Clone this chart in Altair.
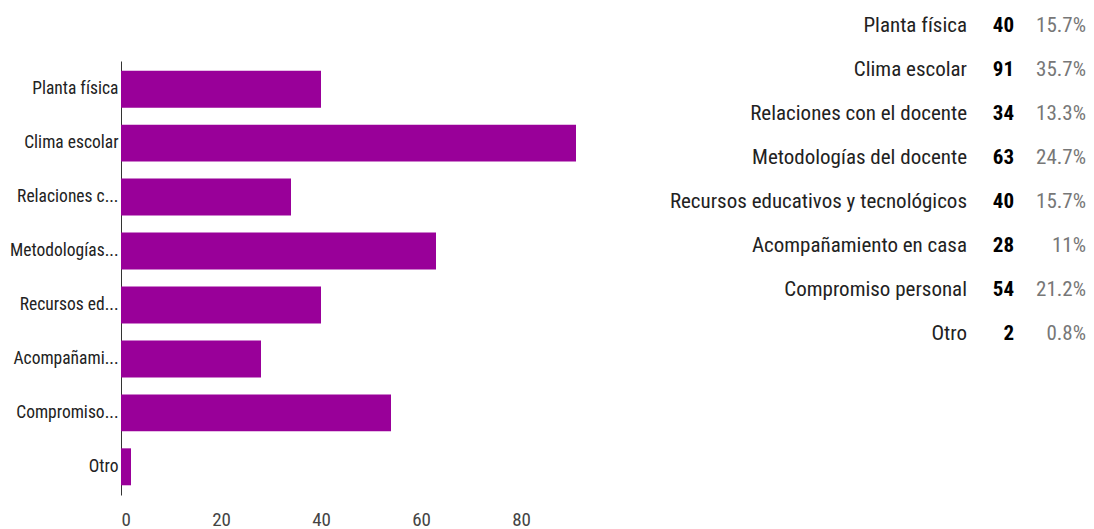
import altair as alt
import pandas as pd

categories = ["Planta física", "Clima escolar", "Relaciones con el docente",
              "Metodologías del docente", "Recursos educativos y tecnológicos",
              "Acompañamiento en casa", "Compromiso personal", "Otro"]
axis_labels = ["Planta física", "Clima escolar", "Relaciones c...", "Metodologías...",
               "Recursos ed...", "Acompañami...", "Compromiso...", "Otro"]
counts = [40, 91, 34, 63, 40, 28, 54, 2]
percents = ["15.7%", "35.7%", "13.3%", "24.7%", "15.7%", "11%", "21.2%", "0.8%"]
x_ticks = [0, 20, 40, 60, 80]

df = pd.DataFrame({"category": categories, "short": axis_labels,
                   "count": counts, "pct": percents})

FONT = "Roboto Condensed, Noto Sans Condensed, DejaVu Sans Condensed, sans-serif"

bars = alt.Chart(df).mark_bar(color="#990099").encode(
    x=alt.X("count:Q", scale=alt.Scale(domain=[0, 95], range=[0, 475], nice=False),
            axis=alt.Axis(values=x_ticks, title=None, grid=False, domain=False, ticks=False,
                          labelFont=FONT, labelFontSize=19, labelColor="#444",
                          labelPadding=15)),
    y=alt.Y("short:N", sort=axis_labels,
            scale=alt.Scale(range=[48, 482], paddingInner=0.315, paddingOuter=0.18),
            axis=alt.Axis(title=None, ticks=False, domainColor="#333", labelFont=FONT,
                          labelFontSize=17.5, labelColor="#222", labelPadding=3,
                          labelLimit=300)),
)

ty = alt.Y("category:N", sort=categories, scale=alt.Scale(type="point", range=[13, 321], padding=0),
           axis=None)

t_label = alt.Chart(df).mark_text(align="right", baseline="middle", font=FONT, fontSize=21,
                                  color="#222").encode(
    x=alt.value(846), y=ty, text="category:N")
t_count = alt.Chart(df).mark_text(align="right", baseline="middle", font=FONT, fontSize=21,
                                  fontWeight="bold", color="#000").encode(
    x=alt.value(893), y=ty, text="count:Q")
t_pct = alt.Chart(df).mark_text(align="right", baseline="middle", font=FONT, fontSize=21,
                                color="#777").encode(
    x=alt.value(965), y=ty, text="pct:N")

chart = alt.layer(bars, t_label, t_count, t_pct).resolve_scale(
    x="independent", y="independent"
).properties(
    width=965, height=482, background="white",
    padding={"left": 1, "top": 5, "right": 0, "bottom": 5},
).configure_view(stroke=None)

chart.save("out.html", embed_options={"renderer": "svg", "actions": False})
